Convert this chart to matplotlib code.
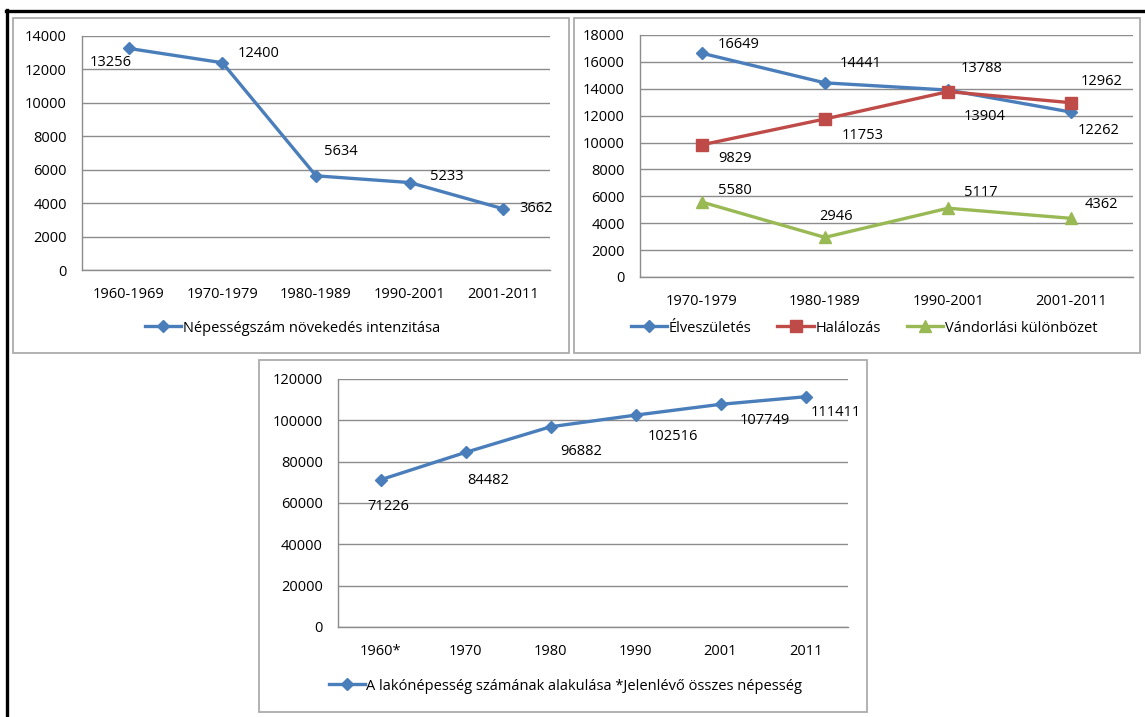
import matplotlib.pyplot as plt
import matplotlib.patches as mpatches
from matplotlib.lines import Line2D
import numpy as np

plt.rcParams['font.family'] = ['Open Sans', 'DejaVu Sans']

# panel 1 data
periods1 = ["1960-1969", "1970-1979", "1980-1989", "1990-2001", "2001-2011"]
growth = [13256, 12400, 5634, 5233, 3662]

# panel 2 data
periods2 = ["1970-1979", "1980-1989", "1990-2001", "2001-2011"]
births = [16649, 14441, 13904, 12262]
deaths = [9829, 11753, 13788, 12962]
migration = [5580, 2946, 5117, 4362]

# panel 3 data
years3 = ["1960*", "1970", "1980", "1990", "2001", "2011"]
population = [71226, 84482, 96882, 102516, 107749, 111411]

W, H = 1145, 717
BLUE = "#4A7EBB"
RED = "#BE4B48"
GREEN = "#98B954"
GRID = "#8C8C8C"
FS = 10.5

fig = plt.figure(figsize=(W / 100, H / 100), dpi=100)


def rect(x0, y0, x1, y1):
    return [x0 / W, 1 - y1 / H, (x1 - x0) / W, (y1 - y0) / H]


def style_axes(ax, ymax, step, labels):
    n = len(labels)
    ax.set_xlim(-0.5, n - 0.5)
    ax.set_ylim(0, ymax)
    ax.set_yticks(np.arange(0, ymax + 1, step))
    ax.set_xticks(np.arange(n))
    ax.set_xticklabels(labels)
    ax.yaxis.grid(True, color=GRID, lw=1)
    ax.set_axisbelow(True)
    for s in ["top", "right"]:
        ax.spines[s].set_visible(False)
    for s in ["left", "bottom"]:
        ax.spines[s].set_color(GRID)
        ax.spines[s].set_linewidth(1)
    ax.tick_params(axis="both", length=0, labelsize=FS, colors="black")
    ax.tick_params(axis="y", pad=11)
    ax.tick_params(axis="x", pad=12)


def labels_at(ax, vals, offsets):
    for i, (v, (dx, dy)) in enumerate(zip(vals, offsets)):
        ax.annotate(str(v), (i, v), xytext=(dx * 0.72, -dy * 0.72),
                    textcoords="offset points", ha="center", va="center",
                    fontsize=FS)


# outer black frame (top and left)
fig.add_artist(Line2D([6 / W, 1], [1 - 10.7 / H, 1 - 10.7 / H], color="black", lw=2.4,
                      transform=fig.transFigure))
fig.add_artist(Line2D([7.3 / W, 7.3 / W], [0, 1 - 10 / H], color="black", lw=2.4,
                      transform=fig.transFigure))

# panel boxes
for (x0, y0, x1, y1) in [(12.5, 17.5, 568.5, 353), (574, 18, 1140, 353), (259, 360, 867, 712)]:
    fig.add_artist(mpatches.Rectangle((x0 / W, 1 - y1 / H), (x1 - x0) / W, (y1 - y0) / H,
                                      transform=fig.transFigure, fill=False,
                                      edgecolor="#ABABAB", lw=1.3))

# panel 1
ax1 = fig.add_axes(rect(82, 36, 550, 270))
ax1.plot(np.arange(len(growth)), growth, color=BLUE, lw=2.4, marker="D", ms=6.5,
         label="Népességszám növekedés intenzitása")
style_axes(ax1, 14000, 2000, periods1)
labels_at(ax1, growth, [(-18, 14), (36, -9), (25, -24), (37, -6), (33, 0)])
ax1.legend(loc="center", bbox_to_anchor=(292.5 / W, 1 - 328 / H), bbox_transform=fig.transFigure,
           frameon=False, fontsize=FS, handlelength=2.5, handletextpad=0.1,
           borderpad=0, borderaxespad=0)

# panel 2
ax2 = fig.add_axes(rect(640, 35, 1133, 277))
x2 = np.arange(len(births))
ax2.plot(x2, births, color=BLUE, lw=2.4, marker="D", ms=6.5, label="Élveszületés")
ax2.plot(x2, deaths, color=RED, lw=2.4, marker="s", ms=8.5, label="Halálozás")
ax2.plot(x2, migration, color=GREEN, lw=2.4, marker="^", ms=9, label="Vándorlási különbözet")
style_axes(ax2, 18000, 2000, periods2)
labels_at(ax2, births, [(37, -9), (36, -19), (36, 26), (27, 18)])
labels_at(ax2, deaths, [(33, 14), (38, 17), (33, -23), (30, -21)])
labels_at(ax2, migration, [(33, -11), (11, -21), (33, -16), (30, -14)])
ax2.legend(loc="center", bbox_to_anchor=(864 / W, 1 - 328 / H), bbox_transform=fig.transFigure,
           frameon=False, fontsize=FS, ncol=3, handlelength=2.5, handletextpad=0.1,
           columnspacing=1.8, borderpad=0, borderaxespad=0)

# panel 3
ax3 = fig.add_axes(rect(338, 379, 848, 627))
ax3.plot(np.arange(len(population)), population, color=BLUE, lw=2.4, marker="D", ms=6.5,
         label="A lakónépesség számának alakulása *Jelenlévő összes népesség")
style_axes(ax3, 120000, 20000, years3)
labels_at(ax3, population, [(8, 27), (23, 28), (31, 25), (37, 21), (44, 16), (30, 16)])
ax3.legend(loc="center", bbox_to_anchor=(565.5 / W, 1 - 686 / H), bbox_transform=fig.transFigure,
           frameon=False, fontsize=FS, handlelength=2.5, handletextpad=0.1,
           borderpad=0, borderaxespad=0)

for ax in (ax1, ax2, ax3):
    for t in ax.texts:
        t.set_clip_on(False)

fig.savefig("out.png", dpi=100)
